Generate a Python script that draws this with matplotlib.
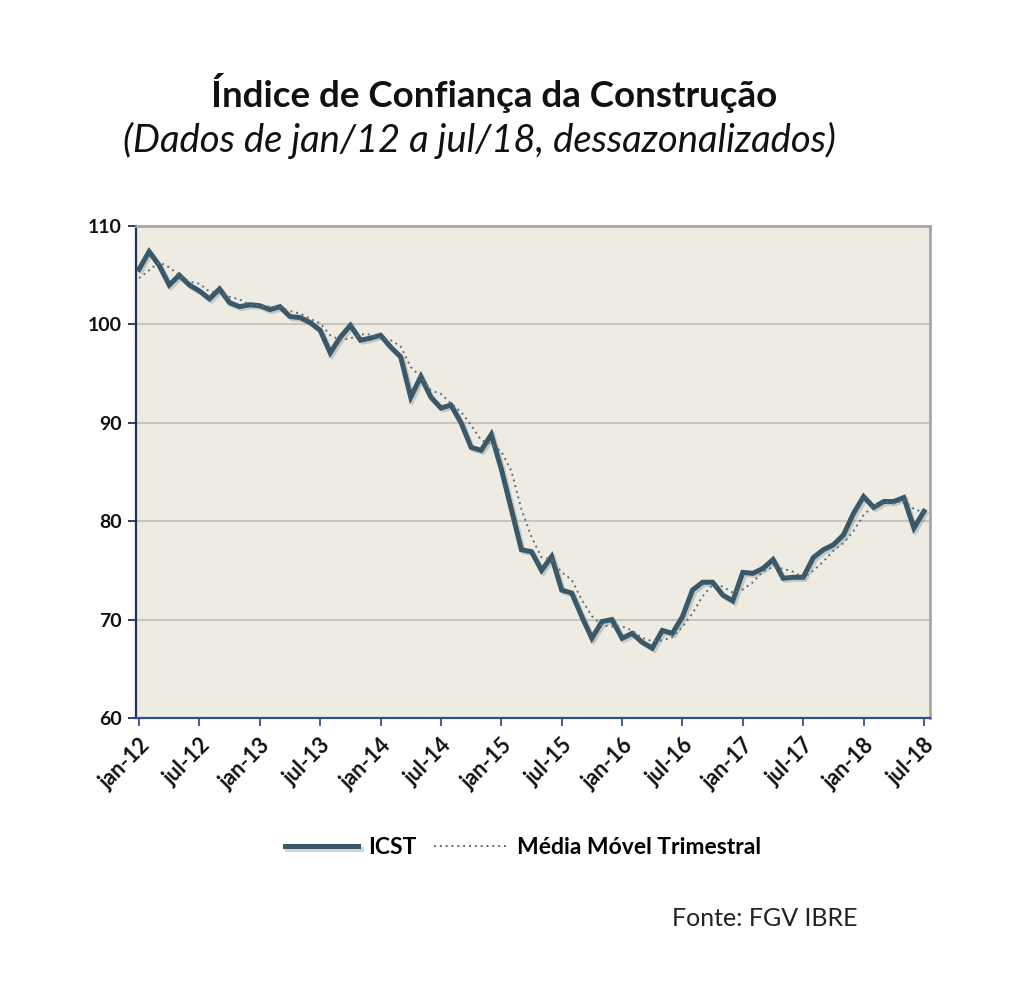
import numpy as np
import pandas as pd
import matplotlib
matplotlib.use("Agg")
import matplotlib.pyplot as plt
import matplotlib.patheffects as pe

# meses de jan/12 a jul/18
meses = pd.date_range("2012-01-01", "2018-07-01", freq="MS")
nomes_pt = ["jan", "fev", "mar", "abr", "mai", "jun", "jul", "ago", "set", "out", "nov", "dez"]

# ICST dessazonalizado
icst = [105.6, 107.4, 106.0, 104.0, 105.0, 104.0, 103.4, 102.6, 103.6, 102.2, 101.8, 102.0,
        101.9, 101.5, 101.8, 100.8, 100.7, 100.2, 99.4, 97.1, 98.7, 99.9, 98.4, 98.6,
        98.9, 97.7, 96.7, 92.6, 94.7, 92.6, 91.5, 91.8, 90.0, 87.5, 87.2, 88.8,
        85.3, 81.2, 77.1, 76.9, 75.0, 76.4, 73.0, 72.7, 70.3, 68.1, 69.8, 70.0,
        68.1, 68.6, 67.7, 67.1, 68.9, 68.6, 70.3, 73.0, 73.8, 73.8, 72.5, 71.9,
        74.8, 74.7, 75.2, 76.1, 74.2, 74.3, 74.3, 76.3, 77.1, 77.6, 78.6, 80.8,
        82.5, 81.4, 82.0, 82.0, 82.4, 79.3, 81.0]
# nov/11 e dez/11, usados só na média móvel
icst_anterior = [105.0, 103.5]

# média móvel trimestral
serie = pd.Series(icst_anterior + icst)
media_movel = serie.rolling(3).mean().iloc[2:].to_numpy()

x = np.arange(len(icst))
ticks = x[::6]
tick_labels = [nomes_pt[m.month - 1] + "-" + m.strftime("%y") for m in meses[::6]]

cor_linha = "#3a5868"
fundo = "#eeebe3"

plt.rcParams['font.family'] = ['Lato', 'DejaVu Sans']

fig = plt.figure(figsize=(10.24, 9.93), dpi=100)
ax = fig.add_axes([136 / 1024, 1 - 718 / 993, (930 - 136) / 1024, (718 - 226) / 993])
ax.set_facecolor(fundo)

ax.plot(x, icst, color=cor_linha, lw=3.6, solid_joinstyle="miter", zorder=3,
        path_effects=[pe.SimpleLineShadow(offset=(1.5, -1.5), shadow_color="#7a8a90", alpha=0.35),
                      pe.Normal()],
        label="ICST")
ax.plot(x, media_movel, color="#56707c", lw=1.4, ls=(0, (1, 2)), zorder=4,
        label="Média Móvel Trimestral")

ax.set_ylim(60, 110)
ax.set_yticks([60, 70, 80, 90, 100, 110])
ax.set_xlim(-0.3, 78.6)
ax.set_xticks(ticks)
ax.set_xticklabels(tick_labels, rotation=45, ha="right", rotation_mode="anchor")

ax.grid(axis="y", color="#c9c5bd", lw=1.5)
ax.set_axisbelow(True)
ax.tick_params(axis="both", colors="#111111", length=6, width=1.3)
ax.tick_params(axis="x", labelsize=15.5, color="#2f4f8f", pad=6)
ax.tick_params(axis="y", labelsize=14, color="#1f3060", pad=4)
for lab in ax.get_xticklabels() + ax.get_yticklabels():
    lab.set_fontweight("bold")

ax.spines["left"].set_color("#1f3060")
ax.spines["left"].set_linewidth(1.6)
ax.spines["bottom"].set_color("#2f4f8f")
ax.spines["bottom"].set_linewidth(1.6)
ax.spines["top"].set_color("#a8a6a2")
ax.spines["top"].set_linewidth(2)
ax.spines["right"].set_color("#a8a6a2")
ax.spines["right"].set_linewidth(2)

fig.text(494 / 1024, 1 - 93 / 993, "Índice de Confiança da Construção", ha="center", va="center",
         fontsize=26.5, fontweight="bold", color="#111111")
fig.text(479 / 1024, 1 - 140 / 993, "(Dados de jan/12 a jul/18, dessazonalizados)", ha="center",
         va="center", fontsize=27.5, style="italic", color="#111111")

leg = fig.legend(loc="center", bbox_to_anchor=(523 / 1024, 1 - 848 / 993), ncol=2, frameon=False,
                 prop={"weight": "bold", "size": 16.5}, handlelength=3.2, columnspacing=0.8,
                 handletextpad=0.4)

fig.text(858 / 1024, 1 - 918 / 993, "Fonte: FGV IBRE", ha="right", va="center", fontsize=18,
         color="#222222")

fig.savefig("out.png", dpi=100, facecolor="white")
